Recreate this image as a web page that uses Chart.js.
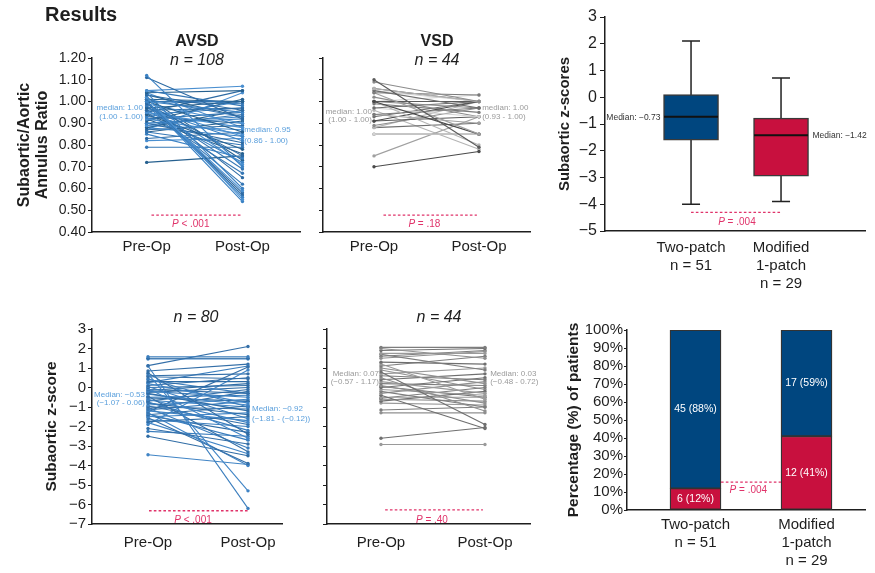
<!DOCTYPE html>
<html>
<head>
<meta charset="utf-8">
<title>Results</title>
<script src="https://cdn.jsdelivr.net/npm/chart.js@4.4.1/dist/chart.umd.min.js"></script>
<style>
  html, body { margin: 0; padding: 0; background: #fff; }
  #wrap { position: relative; width: 875px; height: 573px; overflow: hidden; font-family: 'Liberation Sans', Arial, sans-serif; color: #1e1e1e; }
  canvas { position: absolute; }
  .lbl { position: absolute; white-space: nowrap; line-height: 1; transform: translateX(-50%); }
</style>
</head>
<body>
<div id="wrap">
  <canvas id="avsdRatio" width="310" height="270" style="left:0;top:0"></canvas>
  <canvas id="vsdRatio" width="245" height="270" style="left:300px;top:0"></canvas>
  <canvas id="boxChart" width="335" height="300" style="left:540px;top:0"></canvas>
  <canvas id="avsdZ" width="310" height="273" style="left:0;top:300px"></canvas>
  <canvas id="vsdZ" width="245" height="273" style="left:300px;top:300px"></canvas>
  <canvas id="barChart" width="335" height="273" style="left:540px;top:300px"></canvas>
</div>
<script>
// ---- data ----
const timeLabels = ['Pre-Op', 'Post-Op'];

// AVSD subaortic/aortic annulus ratio (pre -> post)
const avsdRatioPre = [1.12, 1.11, 1.05, 1.05, 1.04, 1.04, 1.03, 1.02, 1.01, 1.01,
  1.00, 1.00, 1.00, 1.00, 1.00, 1.00, 0.99, 0.99, 0.98, 0.97,
  0.97, 0.96, 0.95, 0.95, 0.94, 0.93, 0.93, 0.92, 0.92, 0.91,
  0.90, 0.90, 0.89, 0.89, 0.88, 0.88, 0.87, 0.87, 0.86, 0.86,
  0.85, 0.83, 0.82, 0.79, 0.72, 1.00, 1.00, 1.01, 0.98, 1.03,
  0.96, 0.95, 1.04, 1.00, 0.92, 0.90, 0.99, 0.97, 0.94, 1.02];
const avsdRatioPost = [0.70, 0.92, 1.07, 0.98, 1.05, 0.60, 0.96, 0.55, 0.93, 1.00,
  0.56, 0.57, 0.59, 1.00, 0.86, 0.95, 0.75, 0.90, 0.69, 1.00,
  0.82, 0.97, 0.88, 0.67, 0.78, 1.00, 0.90, 0.85, 0.95, 1.01,
  0.92, 0.81, 0.87, 0.94, 0.96, 0.84, 0.89, 1.04, 0.80, 0.91,
  0.74, 0.86, 0.83, 0.79, 0.75, 0.54, 0.58, 0.71, 0.62, 0.93,
  0.72, 1.05, 0.88, 0.99, 0.76, 0.93, 0.65, 0.84, 0.97, 0.73];

// VSD subaortic/aortic annulus ratio
const vsdRatioPre = [1.10, 1.09, 1.06, 1.05, 1.05, 1.04, 1.04, 1.00, 1.00, 1.00,
  1.00, 0.97, 0.97, 0.94, 0.94, 0.91, 0.91, 0.89, 0.88, 0.88,
  0.85, 0.85, 0.75, 0.70, 1.06, 1.02, 0.96, 0.93, 1.00, 0.99];
const vsdRatioPost = [0.79, 1.00, 1.00, 0.97, 1.00, 1.03, 0.85, 0.85, 1.00, 0.97,
  0.80, 1.00, 0.93, 0.97, 0.90, 1.00, 0.93, 0.97, 1.00, 0.90,
  0.85, 0.85, 0.93, 0.77, 1.00, 0.93, 0.78, 1.00, 1.03, 0.95];

// AVSD subaortic z-score
const avsdZPre = [1.58, 1.50, 1.46, 1.12, 1.10, 0.75, 0.70, 0.55, 0.45, 0.30,
  0.20, 0.10, 0.05, 0.00, -0.05, -0.10, -0.20, -0.30, -0.35, -0.45,
  -0.50, -0.53, -0.60, -0.70, -0.75, -0.80, -0.90, -1.00, -1.05, -1.10,
  -1.20, -1.25, -1.35, -1.40, -1.50, -1.55, -1.65, -1.75, -1.90, -2.10,
  -2.25, -2.50, -3.45, 0.60, 0.25, -0.15, -0.65, -0.95, -1.15, -1.45,
  -1.80, 0.85, 0.40, -0.25, -1.30];
const avsdZPost = [1.58, 1.50, 1.46, 2.10, -6.20, -2.40, -5.30, 0.45, -1.00, 0.30,
  -0.80, 0.50, -1.60, 0.10, -2.60, -0.30, -0.50, -1.20, -0.90, -3.30,
  -0.40, -0.70, -1.80, -0.10, -2.20, -1.40, -0.60, -1.10, -3.10, -0.20,
  -1.70, 1.05, -2.70, -0.95, -1.30, -3.90, -2.00, -1.50, 0.90, -2.90,
  -2.50, -3.50, -3.95, 0.70, 1.10, 0.20, -1.00, -1.90, -0.70, -2.30,
  -3.40, 1.20, -0.30, 0.00, -4.00];

// VSD subaortic z-score
const vsdZPre = [2.06, 2.00, 1.90, 1.75, 1.70, 1.50, 1.30, 1.20, 1.10, 1.00,
  0.80, 0.70, 0.60, 0.50, 0.40, 0.30, 0.20, 0.10, 0.00, -0.10,
  -0.20, -0.30, -0.40, -0.50, -0.55, -0.60, -0.70, -0.80, -1.15, -1.30,
  -2.60, -2.92, 1.60, 0.90, 0.05];
const vsdZPost = [2.06, 1.50, 2.00, 1.75, 0.90, 1.85, 1.20, -0.60, 1.60, 0.20,
  -1.90, 1.00, 0.40, -1.20, 0.70, -0.30, 0.10, -0.80, 0.50, -0.40,
  -1.00, 0.30, -2.10, -0.50, 0.00, -0.70, -0.20, -0.90, -1.00, -1.30,
  -2.05, -2.92, 1.90, -0.10, -0.50];

// repair groups
const groupLabels = [['Two-patch', 'n = 51'], ['Modified', '1-patch', 'n = 29']];
const boxMin = [-4.0, -3.9];
const boxQ1 = [-1.6, -2.95];
const boxMedian = [-0.73, -1.42];
const boxQ3 = [0.1, -0.78];
const boxMax = [2.1, 0.72];

const obstructedN = [6, 12];
const obstructedPct = [12, 41];
const clearN = [45, 17];
const clearPct = [88, 59];

// ---- styling ----
const FONT = "'Liberation Sans', Arial, sans-serif";
const INK = '#1e1e1e';
const PINK = '#e0336a';
const NAVY = '#00467f';
const CRIMSON = '#c8103e';
const avsdBlues = ['#3b82c4', '#2d6aa3', '#4a8fd0', '#3577b5', '#26608f'];
const avsdZBlues = ['#3a7dbd', '#2f6ca5', '#4084c5', '#346fa8'];
const vsdGreys = ['#5a5a5a', '#8c8c8c', '#b4b4b4', '#6e6e6e', '#d2d2d2', '#7a7a7a', '#a0a0a0', '#4a4a4a'];
const vsdZGreys = ['#7d7d7d', '#8f8f8f', '#6f6f6f', '#9a9a9a'];

// text labels placed as html
function addLabel(text, x, baseline, size, style) {
  const d = document.createElement('div');
  d.className = 'lbl';
  d.textContent = text;
  d.style.left = x + 'px';
  d.style.top = (baseline - 0.8465 * size) + 'px';
  d.style.fontSize = size + 'px';
  if (style) Object.assign(d.style, style);
  document.getElementById('wrap').appendChild(d);
}

addLabel('Results', 45, 21, 20, { fontWeight: 'bold', transform: 'none' });
addLabel('AVSD', 197, 47, 16, { fontWeight: 'bold' });
addLabel('n = 108', 197, 66, 16, { fontStyle: 'italic' });
addLabel('VSD', 437, 47, 16, { fontWeight: 'bold' });
addLabel('n = 44', 437, 66, 16, { fontStyle: 'italic' });
addLabel('n = 80', 196, 323, 16, { fontStyle: 'italic' });
addLabel('n = 44', 439, 323, 16, { fontStyle: 'italic' });

// draws text notes and dashed P-value lines in data units
function notesPlugin(notes) {
  return {
    id: 'notes',
    afterDatasetsDraw(chart) {
      const { ctx, scales: { x, y } } = chart;
      notes.forEach(n => {
        ctx.save();
        const py = y.getPixelForValue(n.y);
        if (n.dash) {
          ctx.strokeStyle = n.color;
          ctx.lineWidth = 1.3;
          ctx.setLineDash([2.6, 2.2]);
          ctx.beginPath();
          ctx.moveTo(x.getPixelForValue(n.dash[0]), py);
          ctx.lineTo(x.getPixelForValue(n.dash[1]), py);
          ctx.stroke();
        } else {
          const parts = n.parts || [[n.text, false]];
          const size = n.size || 8;
          const fonts = parts.map(p => (p[1] ? 'italic ' : '') + size + 'px ' + FONT);
          let widths = parts.map((p, i) => { ctx.font = fonts[i]; return ctx.measureText(p[0]).width; });
          const total = widths.reduce((a, b) => a + b, 0);
          let px = x.getPixelForValue(n.x);
          if (n.align === 'right') px -= total;
          else if (n.align === 'center') px -= total / 2;
          ctx.fillStyle = n.color;
          ctx.textBaseline = 'middle';
          ctx.textAlign = 'left';
          parts.forEach((p, i) => {
            ctx.font = fonts[i];
            ctx.fillText(p[0], px, py);
            px += widths[i];
          });
        }
        ctx.restore();
      });
    }
  };
}

function pairedChart(id, pre, post, cfg) {
  const datasets = pre.map((v, i) => {
    const c = cfg.colors[i % cfg.colors.length];
    return {
      data: [{ x: 0, y: v }, { x: 1, y: post[i] }],
      borderColor: c,
      backgroundColor: c,
      borderWidth: 1.1,
      pointRadius: 1.7,
      pointBorderWidth: 0
    };
  });
  return new Chart(document.getElementById(id), {
    type: 'line',
    data: { datasets },
    options: {
      responsive: false,
      animation: false,
      devicePixelRatio: 1,
      layout: { padding: { top: cfg.top, right: cfg.right, bottom: 0, left: 0 } },
      plugins: { legend: { display: false }, tooltip: { enabled: false } },
      scales: {
        x: {
          type: 'linear',
          min: cfg.xMin,
          max: cfg.xMax,
          afterBuildTicks: s => { s.ticks = [{ value: 0 }, { value: 1 }]; },
          afterFit: s => { s.height = cfg.xHeight; },
          grid: { display: false, drawTicks: false },
          border: { color: INK, width: 1.5 },
          ticks: {
            callback: v => timeLabels[v],
            font: { family: FONT, size: 15 },
            color: INK,
            padding: cfg.xPad,
            maxRotation: 0,
            autoSkip: false
          }
        },
        y: {
          min: cfg.yMin,
          max: cfg.yMax,
          afterFit: s => { s.width = cfg.yWidth; },
          grid: { drawOnChartArea: false, tickLength: 4, color: INK, lineWidth: 1 },
          border: { color: INK, width: 1.5 },
          ticks: {
            stepSize: cfg.step,
            autoSkip: false,
            callback: cfg.showTicks ? cfg.fmt : () => '',
            font: { family: FONT, size: cfg.tickSize },
            color: INK,
            padding: 2
          },
          title: cfg.title ? {
            display: true,
            text: cfg.title,
            font: { family: FONT, size: cfg.titleSize, weight: 'bold', lineHeight: 1.12 },
            color: INK,
            padding: { top: cfg.titlePad, bottom: 0 }
          } : { display: false }
        }
      }
    },
    plugins: [notesPlugin(cfg.notes)]
  });
}

const ratioFmt = v => v.toFixed(2);
const zFmt = v => (v < 0 ? '\u2212' + Math.abs(v) : String(v));
const AVSD_TXT = '#5a9fdc';
const VSD_TXT = '#9a9a9a';

pairedChart('avsdRatio', avsdRatioPre, avsdRatioPost, {
  colors: avsdBlues, top: 58, right: 10, xHeight: 38, xPad: 6, yWidth: 92,
  xMin: -0.571, xMax: 1.551 + 0.05, yMin: 0.4, yMax: 1.2, step: 0.1,
  showTicks: true, fmt: ratioFmt, tickSize: 14,
  title: ['Subaortic/Aortic', 'Annulus Ratio'], titleSize: 16, titlePad: 16,
  notes: [
    { x: -0.04, y: 0.97, text: 'median: 1.00', align: 'right', color: AVSD_TXT },
    { x: -0.04, y: 0.93, text: '(1.00 - 1.00)', align: 'right', color: AVSD_TXT },
    { x: 1.02, y: 0.87, text: 'median: 0.95', align: 'left', color: AVSD_TXT },
    { x: 1.02, y: 0.82, text: '(0.86 - 1.00)', align: 'left', color: AVSD_TXT },
    { dash: [0.05, 1.0], y: 0.478, color: PINK },
    { x: 0.46, y: 0.437, parts: [['P', true], [' < .001', false]], size: 10, align: 'center', color: PINK }
  ]
});

pairedChart('vsdRatio', vsdRatioPre, vsdRatioPost, {
  colors: vsdGreys, top: 58, right: 15, xHeight: 38, xPad: 6, yWidth: 23,
  xMin: -0.486, xMax: 1.486, yMin: 0.4, yMax: 1.2, step: 0.1,
  showTicks: false, tickSize: 14,
  notes: [
    { x: -0.02, y: 0.953, text: 'median: 1.00', align: 'right', color: VSD_TXT },
    { x: -0.02, y: 0.915, text: '(1.00 - 1.00)', align: 'right', color: VSD_TXT },
    { x: 1.03, y: 0.973, text: 'median: 1.00', align: 'left', color: VSD_TXT },
    { x: 1.03, y: 0.93, text: '(0.93 - 1.00)', align: 'left', color: VSD_TXT },
    { dash: [0.09, 0.98], y: 0.478, color: PINK },
    { x: 0.48, y: 0.437, parts: [['P', true], [' = .18', false]], size: 10, align: 'center', color: PINK }
  ]
});

pairedChart('avsdZ', avsdZPre, avsdZPost, {
  colors: avsdZBlues, top: 29, right: 28, xHeight: 49, xPad: 10, yWidth: 92,
  xMin: -0.56, xMax: 1.34, yMin: -7, yMax: 3, step: 1,
  showTicks: true, fmt: zFmt, tickSize: 15,
  title: 'Subaortic z-score', titleSize: 15.5, titlePad: 43,
  notes: [
    { x: -0.03, y: -0.35, text: 'Median: \u22120.53', align: 'right', color: AVSD_TXT },
    { x: -0.03, y: -0.81, text: '(\u22121.07 - 0.06)', align: 'right', color: AVSD_TXT },
    { x: 1.04, y: -1.10, text: 'Median: \u22120.92', align: 'left', color: AVSD_TXT },
    { x: 1.04, y: -1.58, text: '(\u22121.81 - (\u22120.12))', align: 'left', color: AVSD_TXT },
    { dash: [0.01, 1.0], y: -6.32, color: PINK },
    { x: 0.45, y: -6.8, parts: [['P', true], [' < .001', false]], size: 10, align: 'center', color: PINK }
  ]
});

pairedChart('vsdZ', vsdZPre, vsdZPost, {
  colors: vsdZGreys, top: 29, right: 15, xHeight: 49, xPad: 10, yWidth: 27,
  xMin: -0.519, xMax: 1.433, yMin: -7, yMax: 3, step: 1,
  showTicks: false, tickSize: 15,
  notes: [
    { x: -0.02, y: 0.69, text: 'Median: 0.07', align: 'right', color: VSD_TXT },
    { x: -0.02, y: 0.27, text: '(\u22120.57 - 1.17)', align: 'right', color: VSD_TXT },
    { x: 1.05, y: 0.69, text: 'Median: 0.03', align: 'left', color: VSD_TXT },
    { x: 1.05, y: 0.27, text: '(\u22120.48 - 0.72)', align: 'left', color: VSD_TXT },
    { dash: [0.04, 0.98], y: -6.28, color: PINK },
    { x: 0.49, y: -6.8, parts: [['P', true], [' = .40', false]], size: 10, align: 'center', color: PINK }
  ]
});

// ---- box plot ----
const boxPlugin = {
  id: 'boxParts',
  beforeDatasetsDraw(chart) {
    const { ctx, scales: { x, y } } = chart;
    ctx.save();
    ctx.strokeStyle = '#222';
    ctx.lineWidth = 1.5;
    boxMin.forEach((lo, i) => {
      const cx = x.getPixelForValue(i);
      ctx.beginPath();
      ctx.moveTo(cx, y.getPixelForValue(boxMax[i]));
      ctx.lineTo(cx, y.getPixelForValue(lo));
      [boxMax[i], lo].forEach(v => {
        ctx.moveTo(cx - 9, y.getPixelForValue(v));
        ctx.lineTo(cx + 9, y.getPixelForValue(v));
      });
      ctx.stroke();
    });
    ctx.restore();
  },
  afterDatasetsDraw(chart) {
    const { ctx, scales: { x, y } } = chart;
    ctx.save();
    ctx.strokeStyle = '#111';
    ctx.lineWidth = 2;
    boxMedian.forEach((m, i) => {
      const cx = x.getPixelForValue(i);
      ctx.beginPath();
      ctx.moveTo(cx - 27, y.getPixelForValue(m));
      ctx.lineTo(cx + 27, y.getPixelForValue(m));
      ctx.stroke();
    });
    ctx.restore();
  }
};

new Chart(document.getElementById('boxChart'), {
  type: 'bar',
  data: {
    datasets: [{
      data: boxQ1.map((q1, i) => ({ x: i, y: [q1, boxQ3[i]] })),
      backgroundColor: [NAVY, CRIMSON],
      borderColor: '#3a3a3a',
      borderWidth: 1.5,
      borderSkipped: false,
      barThickness: 55
    }]
  },
  options: {
    responsive: false,
    animation: false,
    devicePixelRatio: 1,
    layout: { padding: { top: 17, right: 10, bottom: 0, left: 0 } },
    plugins: { legend: { display: false }, tooltip: { enabled: false } },
    scales: {
      x: {
        type: 'linear',
        offset: false,
        min: -0.956,
        max: 1.933,
        afterBuildTicks: s => { s.ticks = [{ value: 0 }, { value: 1 }]; },
        afterFit: s => { s.height = 69; },
        grid: { display: false, drawTicks: false },
        border: { color: INK, width: 1.5 },
        ticks: {
          callback: v => groupLabels[v],
          font: { family: FONT, size: 15 },
          color: INK,
          padding: 8,
          maxRotation: 0,
          autoSkip: false
        }
      },
      y: {
        min: -5,
        max: 3,
        afterFit: s => { s.width = 65; },
        grid: { drawOnChartArea: false, tickLength: 5, color: INK, lineWidth: 1 },
        border: { color: INK, width: 1.5 },
        ticks: { stepSize: 1, autoSkip: false, callback: zFmt, font: { family: FONT, size: 16 }, color: INK, padding: 3 },
        title: {
          display: true,
          text: 'Subaortic z-scores',
          font: { family: FONT, size: 15, weight: 'bold' },
          color: INK,
          padding: { top: 16, bottom: 0 }
        }
      }
    }
  },
  plugins: [boxPlugin, notesPlugin([
    { x: -0.34, y: -0.75, text: 'Median: \u22120.73', align: 'right', color: '#333', size: 8.5 },
    { x: 1.35, y: -1.42, text: 'Median: \u22121.42', align: 'left', color: '#333', size: 8.5 },
    { dash: [0, 0.99], y: -4.3, color: PINK },
    { x: 0.51, y: -4.66, parts: [['P', true], [' = .004', false]], size: 10, align: 'center', color: PINK }
  ])]
});

// ---- stacked percentage bars ----
const barLabelPlugin = {
  id: 'barLabels',
  afterDatasetsDraw(chart) {
    const { ctx, scales: { x, y } } = chart;
    ctx.save();
    ctx.fillStyle = '#fff';
    ctx.font = '10.5px ' + FONT;
    ctx.textAlign = 'center';
    ctx.textBaseline = 'middle';
    obstructedPct.forEach((p, i) => {
      const cx = x.getPixelForValue(i);
      ctx.fillText(obstructedN[i] + ' (' + p + '%)', cx, y.getPixelForValue(p / 2));
      ctx.fillText(clearN[i] + ' (' + clearPct[i] + '%)', cx, y.getPixelForValue(p + clearPct[i] / 2));
    });
    ctx.restore();
  }
};

new Chart(document.getElementById('barChart'), {
  type: 'bar',
  data: {
    datasets: [
      {
        data: obstructedPct.map((v, i) => ({ x: i, y: v })),
        backgroundColor: CRIMSON,
        borderColor: '#333',
        borderWidth: 1.3,
        borderSkipped: false,
        barThickness: 51
      },
      {
        data: clearPct.map((v, i) => ({ x: i, y: v })),
        backgroundColor: NAVY,
        borderColor: '#333',
        borderWidth: 1.3,
        borderSkipped: false,
        barThickness: 51
      }
    ]
  },
  options: {
    responsive: false,
    animation: false,
    devicePixelRatio: 1,
    layout: { padding: { top: 30, right: 10, bottom: 0, left: 0 } },
    plugins: { legend: { display: false }, tooltip: { enabled: false } },
    scales: {
      x: {
        type: 'linear',
        stacked: true,
        offset: false,
        min: -0.617,
        max: 1.527,
        afterBuildTicks: s => { s.ticks = [{ value: 0 }, { value: 1 }]; },
        afterFit: s => { s.height = 63; },
        grid: { display: false, drawTicks: false },
        border: { color: INK, width: 1.5 },
        ticks: {
          callback: v => groupLabels[v],
          font: { family: FONT, size: 15 },
          color: INK,
          padding: 6,
          maxRotation: 0,
          autoSkip: false
        }
      },
      y: {
        stacked: true,
        min: 0,
        max: 100,
        afterFit: s => { s.width = 87; },
        grid: { drawOnChartArea: false, tickLength: 3, color: INK, lineWidth: 1 },
        border: { color: INK, width: 1.5 },
        ticks: { stepSize: 10, autoSkip: false, callback: v => v + '%', font: { family: FONT, size: 15 }, color: INK, padding: 1 },
        title: {
          display: true,
          text: 'Percentage (%) of patients',
          font: { family: FONT, size: 15.5, weight: 'bold' },
          color: INK,
          padding: { top: 24, bottom: 0 }
        }
      }
    }
  },
  plugins: [barLabelPlugin, notesPlugin([
    { dash: [0.23, 0.77], y: 15.5, color: PINK },
    { x: 0.476, y: 11, parts: [['P', true], [' = .004', false]], size: 10, align: 'center', color: PINK }
  ])]
});
</script>
</body>
</html>
